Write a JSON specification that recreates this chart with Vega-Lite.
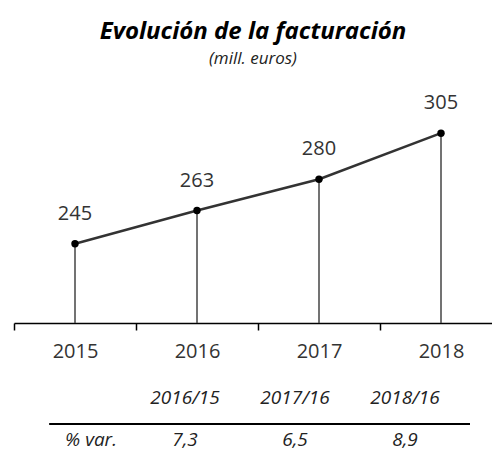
{
  "$schema": "https://vega.github.io/schema/vega-lite/v6.json",
  "width": 478,
  "height": 223,
  "autosize": {"type": "none"},
  "padding": {"left": 14, "top": 100, "right": 0, "bottom": 131},
  "config": {"view": {"stroke": null}, "font": "Open Sans"},
  "title": {
    "text": "Evolución de la facturación",
    "subtitle": "(mill. euros)",
    "fontSize": 24,
    "fontStyle": "italic",
    "fontWeight": "bold",
    "color": "#000",
    "subtitleFontSize": 17,
    "subtitleFontStyle": "italic",
    "subtitleColor": "#222",
    "subtitlePadding": 7,
    "anchor": "middle",
    "offset": 26
  },
  "datasets": {
    "fact": [
      {"year": "2015", "value": 245},
      {"year": "2016", "value": 263},
      {"year": "2017", "value": 280},
      {"year": "2018", "value": 305}
    ],
    "tabla": [
      {"row": "head", "col": "2016/15", "label": "2016/15"},
      {"row": "head", "col": "2017/16", "label": "2017/16"},
      {"row": "head", "col": "2018/16", "label": "2018/16"},
      {"row": "val", "col": "% var.", "label": "% var."},
      {"row": "val", "col": "2016/15", "label": "7,3"},
      {"row": "val", "col": "2017/16", "label": "6,5"},
      {"row": "val", "col": "2018/16", "label": "8,9"}
    ]
  },
  "layer": [
    {
      "data": {"name": "fact"},
      "encoding": {
        "x": {
          "field": "year",
          "type": "ordinal",
          "scale": {"range": [0, 488], "paddingInner": 0, "paddingOuter": 0},
          "axis": {
            "title": null,
            "labelAngle": 0,
            "grid": false,
            "domainColor": "#000",
            "domainWidth": 1.5,
            "tickColor": "#000",
            "tickWidth": 1.5,
            "tickSize": 7,
            "tickBand": "extent",
            "labelFontSize": 20,
            "labelColor": "#333",
            "labelPadding": 11
          }
        },
        "y": {
          "field": "value",
          "type": "quantitative",
          "scale": {"domain": [202, 323], "zero": false, "nice": false},
          "axis": null
        }
      },
      "layer": [
        {"mark": {"type": "rule", "color": "#444", "strokeWidth": 1.5}, "encoding": {"y2": {"datum": 202}}},
        {"mark": {"type": "line", "color": "#333", "strokeWidth": 2.5}},
        {"mark": {"type": "point", "filled": true, "color": "#000", "size": 55, "opacity": 1}},
        {
          "mark": {"type": "text", "dy": -30, "fontSize": 20, "color": "#333", "baseline": "middle"},
          "encoding": {"text": {"field": "value", "type": "quantitative"}}
        }
      ]
    },
    {
      "data": {"name": "tabla"},
      "encoding": {
        "x": {
          "field": "col",
          "type": "nominal",
          "scale": {"domain": ["% var.", "2016/15", "2017/16", "2018/16"], "range": [6, 446], "paddingInner": 0, "paddingOuter": 0},
          "axis": null
        },
        "y": {
          "field": "row",
          "type": "nominal",
          "scale": {"domain": ["head", "val"], "range": [277, 361], "paddingInner": 0, "paddingOuter": 0},
          "axis": null
        }
      },
      "layer": [
        {
          "transform": [{"filter": "datum.col !== '% var.'"}],
          "mark": {"type": "text", "fontSize": 19, "fontStyle": "italic", "color": "#222", "baseline": "middle"},
          "encoding": {"text": {"field": "label"}}
        },
        {
          "transform": [{"filter": "datum.col === '% var.'"}],
          "mark": {"type": "text", "fontSize": 19, "fontStyle": "italic", "color": "#222", "baseline": "middle", "dx": 16},
          "encoding": {"text": {"field": "label"}}
        },
        {
          "mark": {"type": "rule", "color": "#000", "strokeWidth": 1.5},
          "encoding": {
            "x": {"datum": "% var.", "bandPosition": 0.27},
            "x2": {"datum": "2018/16", "bandPosition": 1.09},
            "y": {"datum": "val", "bandPosition": 0.12}
          }
        }
      ]
    }
  ],
  "resolve": {"scale": {"x": "independent", "y": "independent"}}
}
